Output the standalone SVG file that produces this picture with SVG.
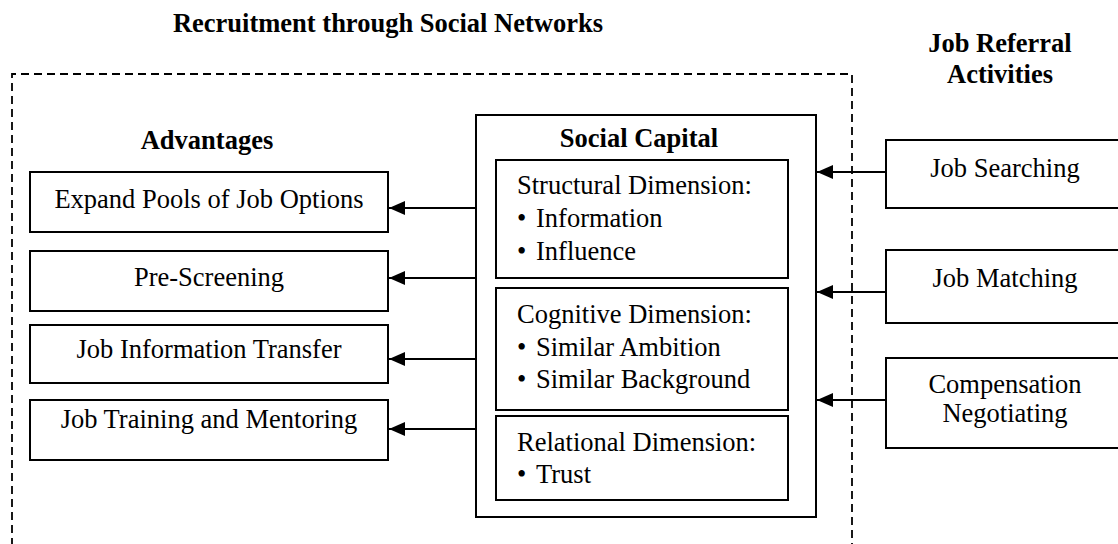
<svg xmlns="http://www.w3.org/2000/svg" width="1118" height="544" viewBox="0 0 1118 544">
<defs>
<style>
text{font-family:"Liberation Serif","Times New Roman",serif;font-size:26.5px;fill:#000}
.b{font-weight:bold}
.m{text-anchor:middle}
.box{fill:#fff;stroke:#000;stroke-width:2}
.dash{fill:none;stroke:#000;stroke-width:1.8;stroke-dasharray:8 5}
.conn{fill:none;stroke:#000;stroke-width:1.8}
</style>
<marker id="ah" markerWidth="16" markerHeight="14" refX="16" refY="7" orient="auto" markerUnits="userSpaceOnUse">
<path d="M0,0 L16,7 L0,14 Z" fill="#000"/>
</marker>
</defs>
<rect width="1118" height="544" fill="#fff"/>
<g id="frame">
<path class="dash" d="M12,546 L12,74 L852,74 L852,546"/>
</g>
<g id="titles">
<text class="b m" x="388" y="32">Recruitment through Social Networks</text>
<text class="b m" x="1000" y="52">Job Referral</text>
<text class="b m" x="1000" y="83">Activities</text>
<text class="b m" x="207" y="149">Advantages</text>
</g>
<g id="adv1"><rect class="box" x="30" y="172" width="358" height="60"/><text class="m" x="209" y="208">Expand Pools of Job Options</text></g>
<g id="adv2"><rect class="box" x="30" y="251" width="358" height="60"/><text class="m" x="209" y="286">Pre-Screening</text></g>
<g id="adv3"><rect class="box" x="30" y="325" width="358" height="58"/><text class="m" x="209" y="358">Job Information Transfer</text></g>
<g id="adv4"><rect class="box" x="30" y="400" width="358" height="60"/><text class="m" x="209" y="428">Job Training and Mentoring</text></g>
<g id="social-capital">
<rect class="box" x="476" y="115" width="340" height="402"/>
<text class="b m" x="639" y="147">Social Capital</text>
</g>
<g id="structural"><rect class="box" x="496" y="160" width="292" height="118"/>
<text x="517" y="194">Structural Dimension:</text>
<text x="517" y="227">•<tspan x="536">Information</tspan></text>
<text x="517" y="260">•<tspan x="536">Influence</tspan></text></g>
<g id="cognitive"><rect class="box" x="496" y="288" width="292" height="122"/>
<text x="517" y="323">Cognitive Dimension:</text>
<text x="517" y="356">•<tspan x="536">Similar Ambition</tspan></text>
<text x="517" y="388">•<tspan x="536">Similar Background</tspan></text></g>
<g id="relational"><rect class="box" x="496" y="416" width="292" height="84"/>
<text x="517" y="451">Relational Dimension:</text>
<text x="517" y="483">•<tspan x="536">Trust</tspan></text></g>
<g id="job-searching"><rect class="box" x="886" y="140" width="240" height="68"/><text class="m" x="1005" y="177">Job Searching</text></g>
<g id="job-matching"><rect class="box" x="886" y="250" width="240" height="73"/><text class="m" x="1005" y="287">Job Matching</text></g>
<g id="compensation"><rect class="box" x="886" y="358" width="240" height="90"/><text class="m" x="1005" y="393">Compensation</text><text class="m" x="1005" y="422">Negotiating</text></g>
<g id="connectors">
<line class="conn" x1="476" y1="208" x2="389" y2="208" marker-end="url(#ah)"/>
<line class="conn" x1="476" y1="278" x2="389" y2="278" marker-end="url(#ah)"/>
<line class="conn" x1="476" y1="359" x2="389" y2="359" marker-end="url(#ah)"/>
<line class="conn" x1="476" y1="429" x2="389" y2="429" marker-end="url(#ah)"/>
<line class="conn" x1="886" y1="172" x2="817" y2="172" marker-end="url(#ah)"/>
<line class="conn" x1="886" y1="292" x2="817" y2="292" marker-end="url(#ah)"/>
<line class="conn" x1="886" y1="400" x2="817" y2="400" marker-end="url(#ah)"/>
</g>
</svg>
